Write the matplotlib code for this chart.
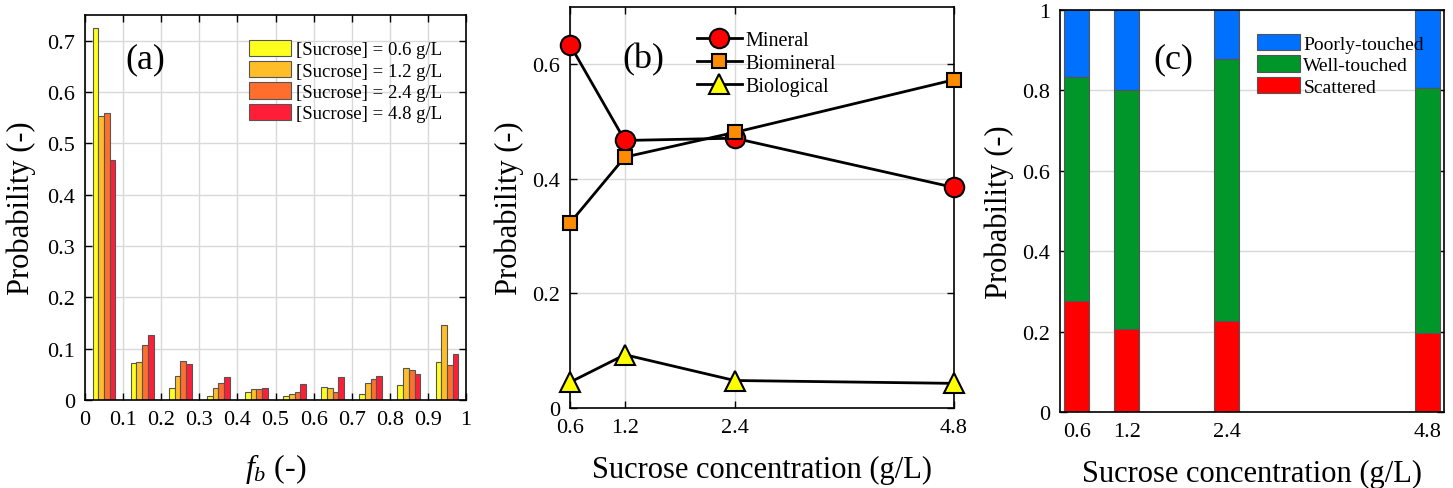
import matplotlib
matplotlib.use("Agg")
import matplotlib.pyplot as plt
import numpy as np

plt.rcParams['font.family'] = ['Liberation Serif', 'DejaVu Serif']
plt.rcParams['mathtext.fontset'] = 'custom'
plt.rcParams['mathtext.rm'] = 'Liberation Serif'
plt.rcParams['mathtext.it'] = 'Liberation Serif:italic'

# ---------------- data ----------------
# panel (a): histogram of f_b
fb_bins = [0.05, 0.15, 0.25, 0.35, 0.45, 0.55, 0.65, 0.75, 0.85, 0.95]
hist_labels = ['[Sucrose] = 0.6 g/L', '[Sucrose] = 1.2 g/L',
               '[Sucrose] = 2.4 g/L', '[Sucrose] = 4.8 g/L']
hist_06 = [0.725, 0.073, 0.023, 0.008, 0.016, 0.008, 0.026, 0.011, 0.029, 0.075]
hist_12 = [0.553, 0.074, 0.047, 0.023, 0.021, 0.012, 0.023, 0.034, 0.062, 0.147]
hist_24 = [0.559, 0.107, 0.076, 0.033, 0.021, 0.016, 0.016, 0.041, 0.058, 0.069]
hist_48 = [0.468, 0.127, 0.070, 0.045, 0.023, 0.031, 0.044, 0.047, 0.051, 0.090]

# panel (b)
sucrose = [0.6, 1.2, 2.4, 4.8]
mineral = [0.634, 0.467, 0.471, 0.385]
biomineral = [0.323, 0.438, 0.481, 0.573]
biological = [0.045, 0.093, 0.048, 0.043]

# panel (c)
scattered = [0.277, 0.207, 0.226, 0.196]
well_touched = [0.557, 0.593, 0.653, 0.610]
poorly_touched = [0.166, 0.200, 0.121, 0.194]

# ---------------- figure ----------------
W, H = 1453, 489
fig = plt.figure(figsize=(W / 100, H / 100), dpi=100)

tick_fs = 16
label_fs = 22
panel_fs = 26
grid_kw = dict(color='#d9d9d9', linewidth=1.0)


def style(ax):
    ax.tick_params(direction='in', top=True, right=True, length=5,
                   width=1, labelsize=tick_fs, pad=7)
    for s in ax.spines.values():
        s.set_linewidth(1.2)
    ax.set_axisbelow(True)


# ---- (a)
ax1 = fig.add_axes([85 / W, 1 - 401 / H, 381 / W, 385 / H])
hist_colors = ['#FFFF1E', '#FFBE28', '#FF6E2D', '#FF1E37']
bw = 0.015
for i, (vals, c, lab) in enumerate(zip([hist_06, hist_12, hist_24, hist_48],
                                       hist_colors, hist_labels)):
    x = np.array(fb_bins) + (i - 1.5) * bw
    ax1.bar(x, vals, width=bw, color=c, edgecolor='#555555', linewidth=0.8,
            label=lab)
ax1.set_xlim(0, 1)
ax1.set_ylim(0, 0.75)
ax1.set_xticks(np.round(np.arange(0, 1.01, 0.1), 1))
ax1.set_xticklabels(['0', '0.1', '0.2', '0.3', '0.4', '0.5', '0.6', '0.7',
                     '0.8', '0.9', '1'])
ax1.set_yticks(np.round(np.arange(0, 0.71, 0.1), 1))
ax1.set_yticklabels(['0', '0.1', '0.2', '0.3', '0.4', '0.5', '0.6', '0.7'])
ax1.grid(True, **grid_kw)
style(ax1)
ax1.set_xlabel('$f_b$ (-)', fontsize=label_fs + 1, labelpad=16)
ax1.set_ylabel('Probability (-)', fontsize=label_fs, labelpad=8)
ax1.text(0.157, 0.886, '(a)', transform=ax1.transAxes, fontsize=panel_fs,
         ha='center', va='center')
ax1.legend(loc='upper right', bbox_to_anchor=(0.966, 0.965), frameon=False,
           fontsize=13.5, handlelength=2.25, handleheight=0.95,
           labelspacing=0.15, handletextpad=0.25, borderaxespad=0.2)

# ---- (b)
ax2 = fig.add_axes([570 / W, 1 - 409 / H, 384 / W, 401 / H])
ax2.plot(sucrose, mineral, '-o', color='black', lw=2, marker='o',
         markerfacecolor='#FF0000', markeredgecolor='black', markersize=14,
         markeredgewidth=1.5, label='Mineral', clip_on=False, zorder=3)
ax2.plot(sucrose, biomineral, '-s', color='black', lw=2,
         markerfacecolor='#FF8C00', markeredgecolor='black', markersize=10,
         markeredgewidth=1.5, label='Biomineral', clip_on=False, zorder=4)
ax2.plot(sucrose, biological, '-^', color='black', lw=2,
         markerfacecolor='#FFFF00', markeredgecolor='black', markersize=15,
         markeredgewidth=1.5, label='Biological', clip_on=False, zorder=3)
ax2.set_xlim(0.6, 4.8)
ax2.set_ylim(0, 0.7)
ax2.set_xticks(sucrose)
ax2.set_xticklabels(['0.6', '1.2', '2.4', '4.8'])
ax2.set_yticks([0, 0.2, 0.4, 0.6])
ax2.set_yticklabels(['0', '0.2', '0.4', '0.6'])
ax2.grid(True, **grid_kw)
style(ax2)
ax2.set_xlabel('Sucrose concentration (g/L)', fontsize=label_fs, labelpad=13)
ax2.set_ylabel('Probability (-)', fontsize=label_fs, labelpad=6)
ax2.text(0.19, 0.87, '(b)', transform=ax2.transAxes, fontsize=panel_fs,
         ha='center', va='center')
ax2.legend(loc='upper left', bbox_to_anchor=(0.3, 0.97), frameon=False,
           fontsize=14.5, handlelength=2.2, labelspacing=0.2,
           handletextpad=0.2, borderaxespad=0.2)

# ---- (c)
ax3 = fig.add_axes([1060 / W, 1 - 413 / H, 384 / W, 402 / H])
cbw = 0.3
bottom2 = np.array(scattered) + np.array(well_touched)
ax3.bar(sucrose, poorly_touched, width=cbw, bottom=bottom2, color='#0070FF',
        edgecolor='#555555', linewidth=0.8, label='Poorly-touched')
ax3.bar(sucrose, well_touched, width=cbw, bottom=scattered, color='#00962A',
        edgecolor='#555555', linewidth=0.8, label='Well-touched')
ax3.bar(sucrose, scattered, width=cbw, color='#FF0000',
        edgecolor='#555555', linewidth=0.8, label='Scattered')
ax3.set_xlim(0.4, 5.0)
ax3.set_ylim(0, 1)
ax3.set_xticks(sucrose)
ax3.set_xticklabels(['0.6', '1.2', '2.4', '4.8'])
ax3.set_yticks([0, 0.2, 0.4, 0.6, 0.8, 1.0])
ax3.set_yticklabels(['0', '0.2', '0.4', '0.6', '0.8', '1'])
ax3.grid(True, axis='y', **grid_kw)
style(ax3)
ax3.set_xlabel('Sucrose concentration (g/L)', fontsize=label_fs, labelpad=13)
ax3.set_ylabel('Probability (-)', fontsize=label_fs, labelpad=6)
ax3.text(0.294, 0.878, '(c)', transform=ax3.transAxes, fontsize=panel_fs,
         ha='center', va='center')
ax3.legend(loc='upper left', bbox_to_anchor=(0.482, 0.97), frameon=False,
           fontsize=14, handlelength=2.2, handleheight=0.9,
           labelspacing=0.15, handletextpad=0.2, borderaxespad=0.2)

fig.savefig('out.png', dpi=100)
